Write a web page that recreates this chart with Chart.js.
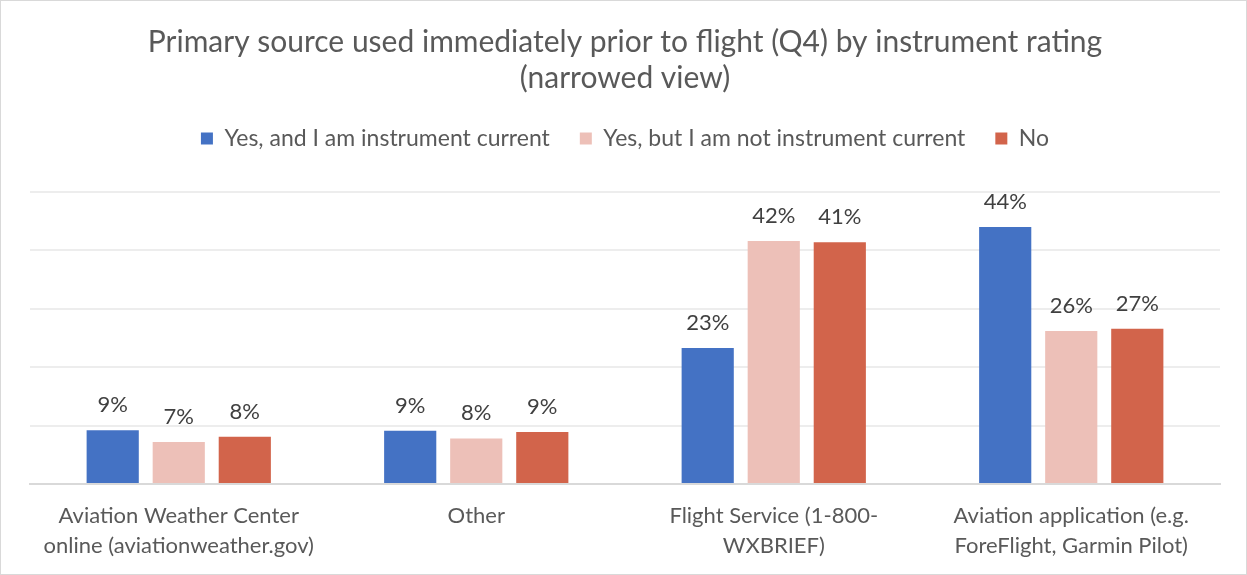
<!DOCTYPE html>
<html>
<head>
<meta charset="utf-8">
<script src="https://cdn.jsdelivr.net/npm/chart.js@4.4.1/dist/chart.umd.min.js"></script>
<style>
  html, body { margin: 0; padding: 0; background: #fff; }
  #wrap { width: 1247px; height: 575px; box-sizing: border-box; border: 1px solid #D9D9D9; position: relative; }
  canvas { display: block; }
</style>
</head>
<body>
<div id="wrap"><canvas id="c"></canvas></div>
<script>
const categories = [
  ["Aviation Weather Center", "online (aviationweather.gov)"],
  ["Other"],
  ["Flight Service (1-800-", "WXBRIEF)"],
  ["Aviation application (e.g.", "ForeFlight, Garmin Pilot)"]
];
const seriesNames = [
  "Yes, and I am instrument current",
  "Yes, but I am not instrument current",
  "No"
];
const instrumentCurrent = [9.2, 9.1, 23.3, 44.0];
const notInstrumentCurrent = [7.2, 7.8, 41.6, 26.2];
const noRating = [8.1, 8.9, 41.4, 26.6];
const yTicks = [0, 10, 20, 30, 40, 50];

const FONT = "Lato, 'Open Sans', sans-serif";
const colors = ["#4472C4", "#EDC0B8", "#D2644B"];

const dataLabels = {
  id: 'dataLabels',
  afterDatasetsDraw(chart) {
    const ctx = chart.ctx;
    ctx.save();
    ctx.font = "22px " + FONT;
    ctx.fillStyle = "#404040";
    ctx.textAlign = "center";
    ctx.textBaseline = "alphabetic";
    chart.data.datasets.forEach((ds, i) => {
      const meta = chart.getDatasetMeta(i);
      meta.data.forEach((bar, j) => {
        ctx.fillText(Math.round(ds.data[j]) + "%", bar.x, bar.y - 18);
      });
    });
    ctx.restore();
  }
};

new Chart(document.getElementById('c'), {
  type: 'bar',
  data: {
    labels: categories,
    datasets: [
      { label: seriesNames[0], data: instrumentCurrent, backgroundColor: colors[0] },
      { label: seriesNames[1], data: notInstrumentCurrent, backgroundColor: colors[1] },
      { label: seriesNames[2], data: noRating, backgroundColor: colors[2] }
    ]
  },
  options: {
    responsive: true,
    maintainAspectRatio: false,
    animation: false,
    layout: { padding: { left: 29, right: 26, top: 0, bottom: 4 } },
    datasets: { bar: { categoryPercentage: 0.666, barPercentage: 0.79 } },
    plugins: {
      title: {
        display: true,
        text: ["Primary source used immediately prior to flight (Q4) by instrument rating", "(narrowed view)"],
        color: "#595959",
        font: { family: FONT, size: 30, weight: 'normal', lineHeight: 1.2 },
        padding: { top: 23, bottom: 1 }
      },
      subtitle: {
        display: true,
        text: "",
        weight: 500,
        font: { size: 1, lineHeight: 1 },
        padding: { top: 16, bottom: 15 }
      },
      legend: {
        display: true,
        position: 'top',
        labels: {
          color: "#595959",
          font: { family: FONT, size: 23 },
          boxWidth: 12,
          boxHeight: 12,
          padding: 30
        }
      },
      tooltip: { enabled: false }
    },
    scales: {
      x: {
        grid: { display: false },
        border: { display: true, color: "#D9D9D9", width: 2 },
        ticks: { color: "#595959", font: { family: FONT, size: 22, lineHeight: 1.3636 }, padding: 9, maxRotation: 0, autoSkip: false }
      },
      y: {
        min: yTicks[0],
        max: yTicks[yTicks.length - 1],
        afterBuildTicks(scale) { scale.ticks = yTicks.map(v => ({ value: v })); },
        ticks: { display: false },
        border: { display: false },
        grid: { color: "#EDEDED", lineWidth: 2, drawTicks: false }
      }
    }
  },
  plugins: [dataLabels]
});
</script>
</body>
</html>
